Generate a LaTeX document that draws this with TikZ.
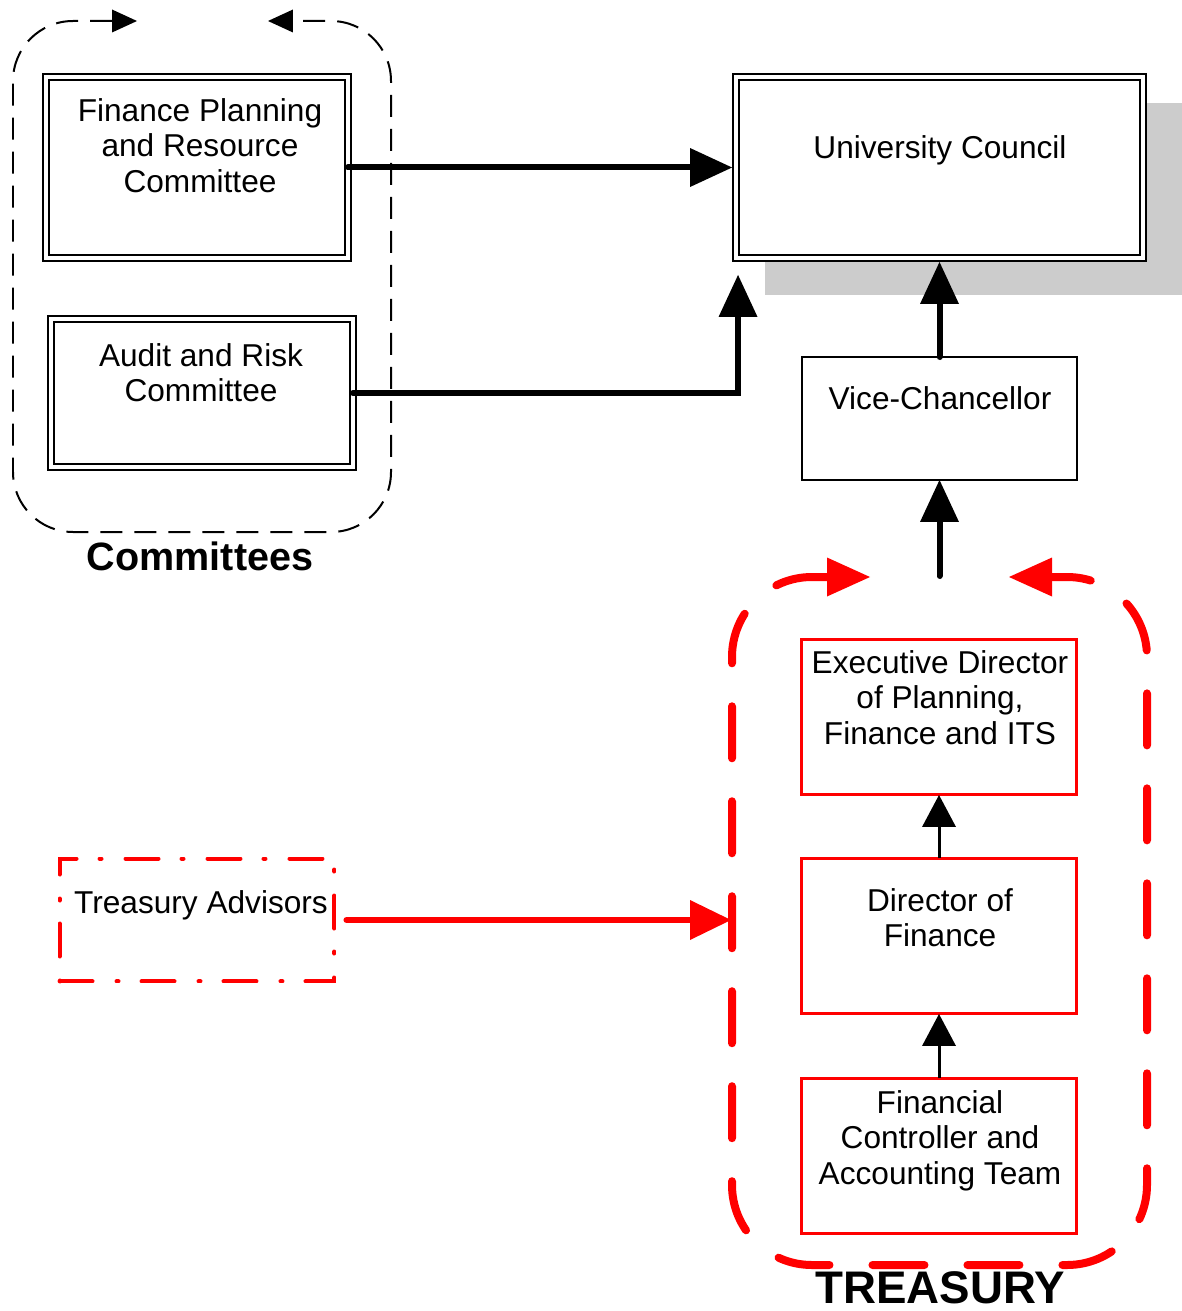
\documentclass[tikz,border=0pt]{standalone}
\usepackage{fontspec}
\setmainfont{Liberation Sans}
\usepackage{xcolor}
\usetikzlibrary{arrows.meta, positioning, calc}

\tikzset{
  dblbox/.style={draw, double, double distance=0.08cm, line width=0.04cm, fill=white, outer sep=0, minimum width=6.04cm},
  plainbox/.style={draw, line width=0.04cm, fill=white, outer sep=0, minimum width=5.5cm},
  redbox/.style={draw=red, line width=0.06cm, fill=white, outer sep=0, minimum width=5.5cm, minimum height=3.12cm},
  advbox/.style={draw=red, line width=0.08cm, line cap=round, dash pattern=on 0.66cm off 0.48cm on 0.04cm off 0.46cm, outer sep=0, minimum width=5.5cm, minimum height=2.46cm},
  txt/.style={font=\fontsize{18}{20.2}\selectfont, align=center, inner sep=0, anchor=north},
  grplbl/.style={font=\fontsize{22.5}{26}\selectfont\bfseries, inner sep=0, anchor=north},
  bigarr/.style={line width=0.12cm, line cap=round, -{Triangle[length=0.84cm, width=0.78cm, line width=0pt]}},
  smallarr/.style={line width=0.06cm, -{Triangle[length=0.64cm, width=0.68cm, line width=0pt]}},
  redarr/.style={red, line width=0.12cm, line cap=round, -{Triangle[length=0.82cm, width=0.8cm, line width=0pt]}},
  comline/.style={line width=0.04cm, dash pattern=on 0.44cm off 0.24cm, rounded corners=1.2cm,
    {Triangle[length=0.5cm, width=0.46cm, line width=0pt]}-{Triangle[length=0.5cm, width=0.46cm, line width=0pt]}},
  trsline/.style={red, line width=0.16cm, line cap=round, dash pattern=on 1.04cm off 0.86cm, rounded corners=1.6cm,
    {Triangle[length=0.86cm, width=0.78cm, line width=0pt]}-{Triangle[length=0.86cm, width=0.78cm, line width=0pt]}}
}

\begin{document}
\begin{tikzpicture}[x=0.02cm, y=-0.02cm]
  \useasboundingbox (0,0) rectangle (1182,1311);

  % council with its shadow
  \fill[black!20] (765,103) rectangle (1182,295);
  \node[dblbox, minimum width=8.14cm, minimum height=3.62cm] (Council) at (939.5,167.5) {};
  \node[plainbox, minimum height=2.46cm] (VC) at (939.5,418.5) {};

  % committees
  \node[dblbox, minimum height=3.62cm] (FinPlan) at (197,167.5) {};
  \node[dblbox, minimum height=2.96cm] (Audit) at (202,393) {};
  \draw[comline] (137,21) -- (13,21) -- (13,532) -- (391,532) -- (391,21) -- (268,21);
  \node[grplbl] (ComLbl) at (200,541) {Committees};

  % treasury
  \node[redbox] (ExecDir) at (939,717) {};
  \node[redbox] (DirFin) at (939,936) {};
  \node[redbox] (FinCtrl) at (939,1156) {};
  \draw[trsline] (870,577) -- (732,577) -- (732,1265) -- (1147,1265) -- (1147,577) -- (1009,577);
  \coordinate (TrsTop) at (939.5,576);
  \coordinate (TrsWest) at (731,920);
  \node[grplbl, font=\fontsize{26}{30}\selectfont\bfseries] (TrsLbl) at (940,1271) {TREASURY};

  \node[advbox] (Advisors) at (197,920) {};

  % texts
  \node[txt] (FinPlanTxt) at (200,98) {Finance Planning\\and Resource\\Committee};
  \node[txt] (AuditTxt) at (201,343) {Audit and Risk\\Committee};
  \node[txt] (CouncilTxt) at (940,135) {University Council};
  \node[txt] (VCTxt) at (940,386) {Vice-Chancellor};
  \node[txt] (ExecDirTxt) at (940,650) {Executive Director\\of Planning,\\Finance and ITS};
  \node[txt] (DirFinTxt) at (940,888) {Director of\\Finance};
  \node[txt] (FinCtrlTxt) at (940,1090) {Financial\\Controller and\\Accounting Team};
  \node[txt] (AdvisorsTxt) at (201,890) {Treasury Advisors};

  % reporting lines
  \draw[bigarr, shorten >=0.08cm] (FinPlan.east) -- (Council.west);
  \draw[bigarr, shorten >=0.34cm] (Audit.east) -| ($(Council.south west)+(2,0)$);
  \draw[bigarr, shorten >=0.08cm] (VC.north) -- (Council.south);
  \draw[bigarr] (TrsTop) -- (VC.south);
  \draw[smallarr] (DirFin.north) -- (ExecDir.south);
  \draw[smallarr] (FinCtrl.north) -- (DirFin.south);
  \draw[redarr, shorten <=0.24cm] (Advisors.east) -- (TrsWest);
\end{tikzpicture}
\end{document}
